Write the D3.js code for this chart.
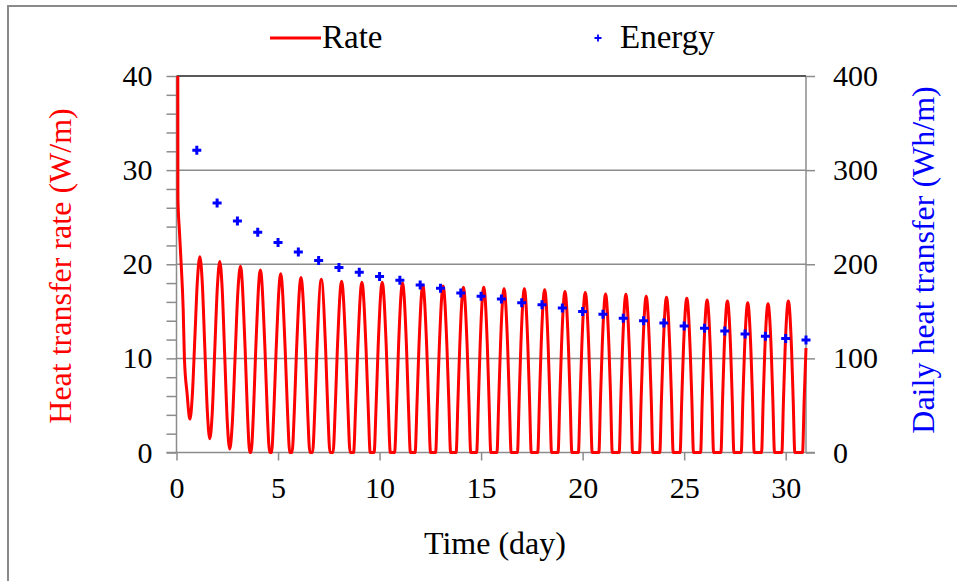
<!DOCTYPE html>
<html>
<head>
<meta charset="utf-8">
<script src="https://cdn.jsdelivr.net/npm/d3@7"></script>
<style>
  html, body { margin: 0; padding: 0; background: #fff; }
  svg { display: block; }
  text { font-family: "Liberation Serif", "Times New Roman", serif; }
</style>
</head>
<body>
<svg id="chart" width="957" height="581"></svg>
<script>
// ---- data ----
// Heat transfer rate (W/m) vs time (day): [day, rate]
const ratePoints = [
  [0.05, 60], [0.065, 40], [0.07, 27], [0.148, 23.4], [0.23, 20.0], [0.33, 15.2], [0.39, 10.0], [0.52, 6.3], [0.66, 3.55],
  [0.78, 6.1], [0.905, 12.2], [1.03, 18.3], [1.15, 20.8],
  [1.27, 18.0], [1.395, 11.1], [1.52, 4.3], [1.64, 1.46],
  [1.76, 4.2], [1.885, 10.9], [2.01, 17.5], [2.13, 20.3],
  [2.25, 17.4], [2.375, 10.3], [2.5, 3.3], [2.62, 0.36],
  [2.75, 3.2], [2.885, 10.1], [3.02, 17.0], [3.15, 19.8],
  [3.38, 11.0], [3.495, 4.1], [3.61, 0],
  [3.67, 0], [3.785, 4.0], [3.9, 10.8], [4.13, 19.4], [4.36, 10.8], [4.475, 4.0], [4.59, 0],
  [4.68, 0], [4.79, 4.2], [4.905, 10.8], [5.13, 19.0], [5.355, 10.8], [5.47, 4.2], [5.58, 0],
  [5.69, 0], [5.80, 4.3], [5.91, 10.8], [6.13, 18.6], [6.35, 10.8], [6.46, 4.3], [6.57, 0],
  [6.70, 0], [6.81, 4.5], [6.915, 10.9], [7.13, 18.4], [7.345, 10.9], [7.45, 4.5], [7.56, 0],
  [7.71, 0], [7.815, 4.6], [7.92, 10.9], [8.13, 18.2], [8.34, 10.9], [8.445, 4.6], [8.55, 0],
  [8.72, 0], [8.82, 4.8], [8.925, 11.0], [9.13, 18.1], [9.335, 11.0], [9.44, 4.8], [9.54, 0],
  [9.73, 0], [9.83, 5.0], [9.93, 11.2], [10.13, 18.1], [10.33, 11.2], [10.43, 5.0], [10.53, 0],
  [10.74, 0], [10.84, 5.1], [10.935, 11.3], [11.13, 18.0], [11.325, 11.3], [11.42, 5.1], [11.52, 0],
  [11.75, 0], [11.845, 5.3], [11.94, 11.3], [12.13, 17.8], [12.32, 11.3], [12.415, 5.3], [12.51, 0],
  [12.76, 0], [12.85, 5.4], [12.945, 11.4], [13.13, 17.7], [13.315, 11.4], [13.41, 5.4], [13.5, 0],
  [13.77, 0], [13.86, 5.5], [13.95, 11.4], [14.13, 17.55], [14.31, 11.4], [14.4, 5.5], [14.49, 0],
  [14.78, 0], [14.87, 5.6], [14.955, 11.5], [15.13, 17.55], [15.305, 11.5], [15.39, 5.6], [15.48, 0],
  [15.78, 0], [15.87, 5.6], [15.955, 11.4], [16.13, 17.4], [16.305, 11.4], [16.39, 5.6], [16.48, 0],
  [16.79, 0], [16.875, 5.7], [16.96, 11.5], [17.13, 17.4], [17.3, 11.5], [17.385, 5.7], [17.47, 0],
  [17.79, 0], [17.875, 5.7], [17.96, 11.5], [18.13, 17.3], [18.3, 11.5], [18.385, 5.7], [18.47, 0],
  [18.79, 0], [18.875, 5.6], [18.96, 11.3], [19.13, 17.1], [19.3, 11.3], [19.385, 5.6], [19.47, 0],
  [19.79, 0], [19.875, 5.6], [19.96, 11.3], [20.13, 17.0], [20.3, 11.3], [20.385, 5.6], [20.47, 0],
  [20.8, 0], [20.88, 5.7], [20.965, 11.3], [21.13, 16.85], [21.295, 11.3], [21.38, 5.7], [21.46, 0],
  [21.8, 0], [21.88, 5.6], [21.965, 11.2], [22.13, 16.8], [22.295, 11.2], [22.38, 5.6], [22.46, 0],
  [22.8, 0], [22.88, 5.6], [22.965, 11.1], [23.13, 16.6], [23.295, 11.1], [23.38, 5.6], [23.46, 0],
  [23.8, 0], [23.88, 5.5], [23.965, 11.0], [24.13, 16.5], [24.295, 11.0], [24.38, 5.5], [24.46, 0],
  [24.8, 0], [24.88, 5.5], [24.965, 11.0], [25.13, 16.4], [25.295, 11.0], [25.38, 5.5], [25.46, 0],
  [25.81, 0], [25.89, 5.6], [25.97, 10.9], [26.13, 16.2], [26.29, 10.9], [26.37, 5.6], [26.45, 0],
  [26.81, 0], [26.89, 5.5], [26.97, 10.9], [27.13, 16.1], [27.29, 10.9], [27.37, 5.5], [27.45, 0],
  [27.81, 0], [27.89, 5.5], [27.97, 10.7], [28.13, 15.9], [28.29, 10.7], [28.37, 5.5], [28.45, 0],
  [28.81, 0], [28.89, 5.4], [28.97, 10.7], [29.13, 15.8], [29.29, 10.7], [29.37, 5.4], [29.45, 0],
  [29.81, 0], [29.89, 5.5], [29.97, 10.9], [30.13, 16.1], [30.29, 10.9], [30.37, 5.5], [30.45, 0],
  [30.83, 0], [30.91, 5.6], [31.0, 11.1]
];

// Daily heat transfer (Wh/m), one value per day 1..31
const energyDays = [1,2,3,4,5,6,7,8,9,10,11,12,13,14,15,16,17,18,19,20,21,22,23,24,25,26,27,28,29,30,31];
const energyValues = [321, 265, 246, 234, 223, 213, 204, 196.5, 191.5, 187, 183, 178, 174.5, 169.5,
  166, 163, 159, 157, 153.6, 149.7, 147, 142.6, 140, 137.6, 134.4, 132, 129, 126, 123.4, 121, 119.6];

const xTicks = [0, 5, 10, 15, 20, 25, 30];
const yLeftTicks = [0, 10, 20, 30, 40];
const yRightTicks = [0, 100, 200, 300, 400];
const seriesNames = ["Rate", "Energy"];
const xTitle = "Time (day)";
const yLeftTitle = "Heat transfer rate (W/m)";
const yRightTitle = "Daily heat transfer (Wh/m)";

// ---- layout ----
const svg = d3.select("#chart");
const L = 176.5, R = 806, T = 76, B = 452.5;
const x = d3.scaleLinear().domain([0, 31]).range([L, R]);
const yL = d3.scaleLinear().domain([0, 40]).range([B, T]);
const yR = d3.scaleLinear().domain([0, 400]).range([B, T]);
const red = "#ff0000", blue = "#0000ff", axisGray = "#8c8c8c";
const FS = 30;

// outer frame
svg.append("rect").attr("x", 8).attr("y", 6).attr("width", 1000).attr("height", 1000)
  .attr("fill", "none").attr("stroke", "#8a8a8a").attr("stroke-width", 2);

// gridlines
svg.append("g").selectAll("line").data(yLeftTicks.filter(d => d > 0 && d < 40)).join("line")
  .attr("x1", L).attr("x2", R).attr("y1", d => yL(d)).attr("y2", d => yL(d))
  .attr("stroke", axisGray).attr("stroke-width", 1.5);

// left axis (minor ticks every 2, labels every 10)
const gL = svg.append("g").attr("transform", `translate(${L},0)`)
  .call(d3.axisLeft(yL).tickValues(d3.range(0, 41, 2)).tickSize(10).tickPadding(14)
    .tickFormat(d => (d % 10 === 0 ? d : "")));
// right axis
const gR = svg.append("g").attr("transform", `translate(${R},0)`)
  .call(d3.axisRight(yR).tickValues(yRightTicks).tickSize(9).tickPadding(18));
// bottom axis
const gB = svg.append("g").attr("transform", `translate(0,${B})`)
  .call(d3.axisBottom(x).tickValues(xTicks).tickSize(8).tickPadding(16));

[gL, gR, gB].forEach(g => {
  g.select(".domain").attr("stroke", axisGray).attr("stroke-width", 1.5);
  g.selectAll(".tick line").attr("stroke", axisGray).attr("stroke-width", 1.5);
  g.selectAll(".tick text").attr("fill", "#000").attr("font-size", FS)
    .attr("font-family", "'Liberation Serif', 'Times New Roman', serif");
});
gL.select(".domain").attr("d", `M0,${B}V${T}`);
gR.select(".domain").attr("d", `M0,${B}V${T}`);
gB.select(".domain").attr("d", `M${L - 10},0H${R + 9}`);

// top border of plot area
svg.append("line").attr("x1", L).attr("x2", R).attr("y1", T).attr("y2", T)
  .attr("stroke", "#595959").attr("stroke-width", 2);

// clip
svg.append("defs").append("clipPath").attr("id", "plotclip")
  .append("rect").attr("x", L - 2).attr("y", T).attr("width", R - L + 4).attr("height", B - T + 3);

// rate line
const line = d3.line().x(d => x(d[0])).y(d => yL(d[1])).curve(d3.curveMonotoneX);
svg.append("path").datum(ratePoints).attr("clip-path", "url(#plotclip)")
  .attr("d", line).attr("fill", "none").attr("stroke", red).attr("stroke-width", 3)
  .attr("stroke-linejoin", "round");

// energy markers (plus)
const plus = (s) => `M${-s},0H${s}M0,${-s}V${s}`;
svg.append("g").selectAll("path").data(energyDays.map((d, i) => [d, energyValues[i]])).join("path")
  .attr("transform", d => `translate(${x(d[0])},${yR(d[1])})`)
  .attr("d", plus(4.5)).attr("stroke", blue).attr("stroke-width", 3).attr("fill", "none");

// legend
const lg = svg.append("g");
lg.append("line").attr("x1", 270).attr("x2", 321).attr("y1", 38).attr("y2", 38)
  .attr("stroke", red).attr("stroke-width", 3);
lg.append("text").attr("x", 322).attr("y", 48).attr("font-size", 33).text(seriesNames[0]);
lg.append("path").attr("transform", "translate(598,38)").attr("d", plus(3.5))
  .attr("stroke", blue).attr("stroke-width", 1.8);
lg.append("text").attr("x", 620).attr("y", 48).attr("font-size", 33).text(seriesNames[1]);

// axis titles
svg.append("text").attr("x", 495).attr("y", 554).attr("text-anchor", "middle")
  .attr("font-size", 32).attr("fill", "#000").text(xTitle);
svg.append("text").attr("transform", "translate(71,266) rotate(-90)").attr("text-anchor", "middle")
  .attr("font-size", 32).attr("fill", red).text(yLeftTitle);
svg.append("text").attr("transform", "translate(934,260) rotate(-90)").attr("text-anchor", "middle")
  .attr("font-size", 32).attr("fill", blue).text(yRightTitle);
</script>
</body>
</html>
